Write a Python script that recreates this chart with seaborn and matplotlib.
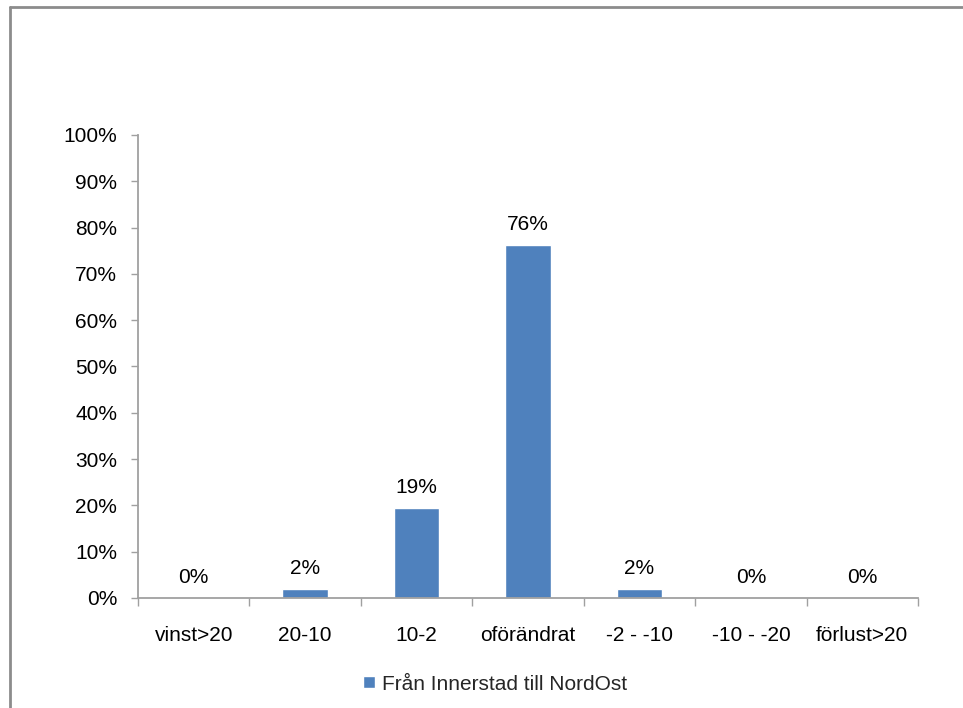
import seaborn as sns
import matplotlib.pyplot as plt
from matplotlib.lines import Line2D
from matplotlib.ticker import FixedLocator

categories = ["vinst>20", "20-10", "10-2", "oförändrat", "-2 - -10", "-10 - -20", "förlust>20"]
values = [0.0, 1.9, 19.4, 76.3, 1.9, 0.0, 0.0]
series_name = "Från Innerstad till NordOst"
yticks = list(range(0, 101, 10))

sns.set_style("white")
plt.rcParams['font.family'] = ['Liberation Sans', 'DejaVu Sans']
FS = 15

fig = plt.figure(figsize=(9.63, 7.08), dpi=100)
ax = fig.add_axes([0.1433, 0.1554, 0.81, 0.654])

sns.barplot(x=categories, y=values, color="#4F81BD", width=0.41,
            saturation=1, label=series_name, ax=ax)

# value labels above bars
ax.bar_label(ax.containers[0], labels=[f"{v:.0f}%" for v in values],
             padding=8, fontsize=FS, color="#000000")

ax.set_xlim(-0.5, len(categories) - 0.5)
ax.set_ylim(0, 100)
ax.set_yticks(yticks)
ax.set_yticklabels([f"{t}%" for t in yticks], fontsize=FS)
ax.tick_params(axis='y', length=5, width=1, color="#a0a0a0", pad=10, left=True,
               labelcolor="#000000")
ax.tick_params(axis='x', which='major', length=0, pad=20, labelsize=FS,
               labelcolor="#000000")
ax.xaxis.set_minor_locator(FixedLocator([i - 0.5 for i in range(len(categories) + 1)]))
ax.tick_params(axis='x', which='minor', length=6, width=1, color="#a0a0a0", bottom=True)
ax.set_xlabel("")
ax.set_ylabel("")

for side in ["top", "right"]:
    ax.spines[side].set_visible(False)
for side in ["left", "bottom"]:
    ax.spines[side].set_color("#a0a0a0")
    ax.spines[side].set_linewidth(1.3)

# legend below the plot
handles, labels = ax.get_legend_handles_labels()
if ax.get_legend() is not None:
    ax.get_legend().remove()
fig.legend(handles, labels, loc="center", bbox_to_anchor=(495 / 963, 1 - 684 / 708),
           frameon=False, fontsize=FS, handlelength=0.55, handleheight=0.55,
           handletextpad=0.35)

# outer chart border (left and top)
fig.add_artist(Line2D([10 / 963, 10 / 963], [0, 1 - 7 / 708], transform=fig.transFigure,
                      color="#8c8c8c", lw=2))
fig.add_artist(Line2D([10 / 963, 1], [1 - 7 / 708, 1 - 7 / 708], transform=fig.transFigure,
                      color="#8c8c8c", lw=2))

fig.savefig("out.png", dpi=100)
